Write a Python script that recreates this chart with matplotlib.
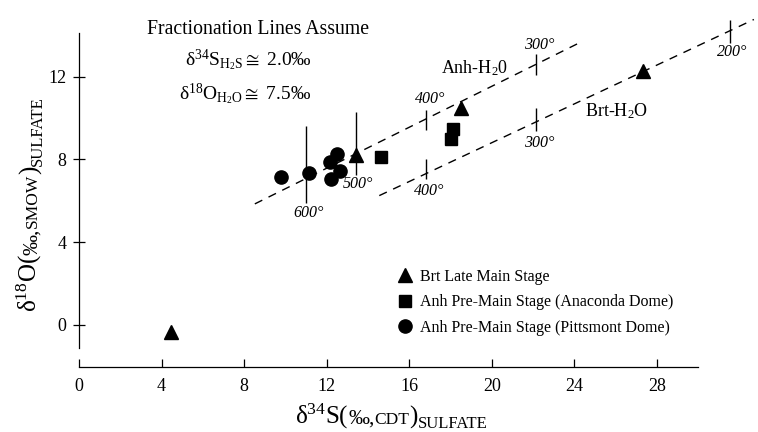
import matplotlib
matplotlib.use("Agg")
import matplotlib.pyplot as plt
from matplotlib.transforms import IdentityTransform

plt.rcParams["font.family"] = ["Liberation Serif", "DejaVu Serif"]
plt.rcParams["mathtext.fontset"] = "custom"
plt.rcParams["mathtext.rm"] = "Liberation Serif"
plt.rcParams["mathtext.it"] = "Liberation Serif:italic"
plt.rcParams["mathtext.bf"] = "Liberation Serif:bold"

# data
brt_x = [4.46, 13.42, 18.53, 27.33]
brt_y = [-0.32, 8.22, 10.5, 12.29]
anh_ana_x = [14.62, 18.1, 18.02]
anh_ana_y = [8.13, 9.48, 8.97]
anh_pit_x = [9.77, 11.16, 12.16, 12.51, 12.67, 12.19]
anh_pit_y = [7.17, 7.36, 7.89, 8.26, 7.42, 7.04]

# fractionation lines (end points)
anh_line_x = [8.52, 24.18]
anh_line_y = [5.85, 13.6]
brt_line_x = [14.55, 32.7]
brt_line_y = [6.25, 14.76]

# temperature marks on the lines
temp_x = [10.98, 13.4, 16.8, 22.13, 16.8, 22.13, 31.52]
temp_lo = [5.88, 7.25, 9.42, 12.1, 7.07, 9.35, 13.6]
temp_hi = [9.61, 10.27, 10.4, 13.08, 8.0, 10.49, 14.73]
temp_labels = ["600°", "500°", "400°", "300°", "400°", "300°", "200°"]
temp_lab_x = [11.1, 13.5, 17.0, 22.29, 16.95, 22.29, 31.65]
temp_lab_y = [5.39, 6.8, 10.9, 13.53, 6.49, 8.81, 13.2]

fig = plt.figure(figsize=(7.58, 4.32), dpi=100)
ax = fig.add_axes([0.1042, 0.1505, 0.8958, 0.8159])
ax.set_xlim(0, 32.9)
ax.set_ylim(-2.03, 15)

ax.plot(anh_line_x, anh_line_y, color="black", lw=1.0, ls=(0, (6, 5)))
ax.plot(brt_line_x, brt_line_y, color="black", lw=1.0, ls=(0, (6, 5)))
ax.vlines(temp_x, temp_lo, temp_hi, color="black", lw=1.0)
for tx, ty, lab in zip(temp_lab_x, temp_lab_y, temp_labels):
    ax.text(tx, ty, lab, fontsize=11.5, style="italic", ha="center", va="center")

ax.plot(brt_x, brt_y, "^", color="black", ms=10, ls="none", label="Brt Late Main Stage")
ax.plot(anh_ana_x, anh_ana_y, "s", color="black", ms=8.5, ls="none",
        label="Anh Pre-Main Stage (Anaconda Dome)")
ax.plot(anh_pit_x, anh_pit_y, "o", color="black", ms=9.5, ls="none",
        label="Anh Pre-Main Stage (Pittsmont Dome)")

ax.text(19.17, 12.43, "Anh-H$_2$0", fontsize=13, ha="center", va="center")
ax.text(26.04, 10.34, "Brt-H$_2$O", fontsize=13, ha="center", va="center")

ax.text(3.29, 14.04, "Fractionation Lines Assume", fontsize=14.2, va="baseline")
ax.text(11.28, 12.56, r"δ$^{34}$S$_{\mathrm{H_2S}}\cong$ 2.0‰", fontsize=14,
        ha="right", va="baseline")
ax.text(11.28, 10.87, r"δ$^{18}$O$_{\mathrm{H_2O}}\cong$ 7.5‰", fontsize=14,
        ha="right", va="baseline")

ax.legend(loc="upper left", bbox_to_anchor=(0.468, 0.279), frameon=False,
          fontsize=11.5, handlelength=1.0, handletextpad=0.45, labelspacing=0.6,
          borderpad=0, borderaxespad=0)

for side in ["top", "right"]:
    ax.spines[side].set_visible(False)
ax.spines["left"].set_bounds(-1.1, 14.1)
ax.spines["bottom"].set_bounds(0, 30)
ax.spines["left"].set_linewidth(0.9)
ax.spines["bottom"].set_linewidth(0.9)
ax.set_xticks(range(0, 29, 4))
ax.set_yticks([0, 4, 8, 12])
ax.tick_params(axis="x", direction="in", length=5.5, width=0.9, pad=8, labelsize=13)
ax.tick_params(axis="y", direction="inout", length=8.6, width=0.9, pad=4.6, labelsize=13)


def chain_text(x0, y0, parts, rotation=0, center=True):
    renderer = fig.canvas.get_renderer()
    texts = []
    pos = 0.0
    for txt, size, shift in parts:
        if rotation == 0:
            t = fig.text(x0 + pos, y0 - shift, txt, fontsize=size, ha="left",
                         va="baseline", transform=IdentityTransform())
            length = t.get_window_extent(renderer).width
        else:
            t = fig.text(x0 + shift, y0 + pos, txt, fontsize=size, ha="left",
                         va="baseline", rotation=90, rotation_mode="anchor",
                         transform=IdentityTransform())
            length = t.get_window_extent(renderer).height
        texts.append(t)
        pos += length
    if center:
        for t in texts:
            px, py = t.get_position()
            if rotation == 0:
                t.set_position((px - pos / 2, py))
            else:
                t.set_position((px, py - pos / 2))


# x label, centred on the x spine (pixels from bottom-left)
chain_text(391, 8, [(r"δ$^{34}$S(", 18, 0), ("‰,", 15, 0), ("CDT", 12.5, 0),
                    (")", 18, 0), ("SULFATE", 12, 4)])
# y label (pixels from bottom-left)
chain_text(37, 228, [(r"δ$^{18}$O(", 18, 0), ("‰,", 15, 0), ("SMOW", 12.5, 0),
                     (")", 18, 0), ("SULFATE", 12, 5)], rotation=90)

fig.savefig("out.png", dpi=100)
